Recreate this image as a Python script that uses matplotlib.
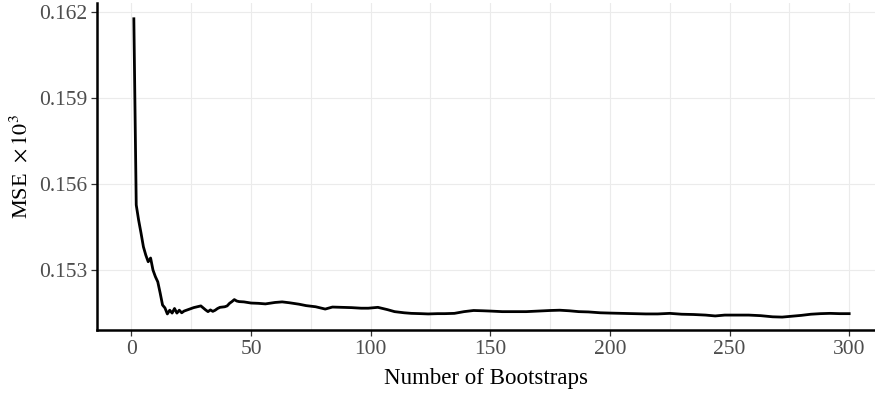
import matplotlib
matplotlib.use("Agg")
import matplotlib.pyplot as plt
from matplotlib.ticker import MultipleLocator, FixedLocator

n_boot = [1, 2, 3, 4, 5, 6, 7, 8, 9, 10, 11, 12, 13, 14, 15, 16, 17, 18, 19, 20,
          21, 22, 23, 24, 25, 26, 27, 28, 29, 30, 31, 32, 33, 34, 35, 36, 37, 38, 39, 40,
          41, 42, 43, 44, 45, 47, 50, 53, 56, 60, 63, 66, 70, 73, 77, 81, 84, 88, 92, 96,
          99, 103, 107, 110, 114, 117, 121, 124, 128, 131, 135, 139, 143, 147, 150, 155,
          160, 165, 170, 175, 179, 183, 187, 191, 196, 200, 205, 210, 215, 220, 225, 230,
          235, 240, 244, 248, 253, 258, 263, 268, 272, 276, 280, 284, 288, 292, 296, 300]

mse = [0.16176, 0.15527, 0.15474, 0.15429, 0.15381, 0.15352, 0.15329, 0.15342, 0.15300, 0.15277,
       0.15259, 0.15220, 0.15178, 0.15168, 0.15147, 0.15160, 0.15150, 0.15166, 0.15150, 0.15160,
       0.15151, 0.15157, 0.15160, 0.15163, 0.15166, 0.15169, 0.15171, 0.15173, 0.15175, 0.15168,
       0.15161, 0.15155, 0.15161, 0.15156, 0.15160, 0.15166, 0.15170, 0.15171, 0.15172, 0.15175,
       0.15184, 0.15190, 0.15197, 0.15192, 0.15190, 0.15189, 0.15185, 0.15184, 0.15182, 0.15187,
       0.15189, 0.15186, 0.15181, 0.15176, 0.15172, 0.15164, 0.15171, 0.15170, 0.15169, 0.15167,
       0.15167, 0.15170, 0.15162, 0.15155, 0.15151, 0.15149, 0.15148, 0.15147, 0.15148, 0.15148,
       0.15149, 0.15155, 0.15159, 0.15158, 0.15157, 0.15155, 0.15155, 0.15155, 0.15157, 0.15159,
       0.15160, 0.15158, 0.15155, 0.15154, 0.15151, 0.15150, 0.15149, 0.15148, 0.15147, 0.15147,
       0.15149, 0.15146, 0.15145, 0.15143, 0.15140, 0.15143, 0.15143, 0.15143, 0.15141, 0.15137,
       0.15136, 0.15139, 0.15142, 0.15146, 0.15148, 0.15149, 0.15148, 0.15148]

x_ticks = [0, 50, 100, 150, 200, 250, 300]
y_ticks = [0.153, 0.156, 0.159, 0.162]
y_tick_labels = ["0.153", "0.156", "0.159", "0.162"]

plt.rcParams['font.family'] = ['Liberation Serif', 'DejaVu Serif']
plt.rcParams['mathtext.fontset'] = 'stix'

fig = plt.figure(figsize=(8.75, 3.94), dpi=100)
ax = fig.add_axes([97 / 875, 64 / 394, 1 - 97 / 875, (391 - 64) / 394])

ax.plot(n_boot, mse, color='black', linewidth=2.0, solid_joinstyle='round', zorder=3)

ax.set_xlim(-14.4, 310.8)
ax.set_ylim(0.15091, 0.16231)

ax.xaxis.set_major_locator(FixedLocator(x_ticks))
ax.xaxis.set_minor_locator(MultipleLocator(25))
ax.yaxis.set_major_locator(FixedLocator(y_ticks))
ax.set_yticklabels(y_tick_labels)

ax.grid(True, which='major', color='#EBEBEB', linewidth=0.8, zorder=0)
ax.grid(True, which='minor', axis='x', color='#EBEBEB', linewidth=0.8, zorder=0)
ax.set_axisbelow(True)

for s in ['top', 'right']:
    ax.spines[s].set_visible(False)
for s in ['left', 'bottom']:
    ax.spines[s].set_linewidth(1.8)
    ax.spines[s].set_color('black')

ax.tick_params(axis='both', which='major', direction='out', length=4, width=0.9,
               color='#333333', labelcolor='#4D4D4D', labelsize=15.5, pad=3)
ax.tick_params(axis='both', which='minor', length=0)

ax.set_xlabel('Number of Bootstraps', fontsize=16.5, color='black', labelpad=7)
ax.set_ylabel(r'MSE  $\times\,10^3$', fontsize=16, color='black', labelpad=5)

fig.savefig('out.png', dpi=100)
